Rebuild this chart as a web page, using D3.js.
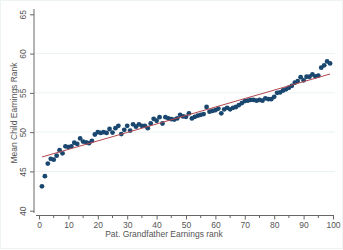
<!DOCTYPE html>
<html>
<head>
<meta charset="utf-8">
<script src="https://cdn.jsdelivr.net/npm/d3@7"></script>
<style>
  body { margin: 0; background: #fff; }
  svg { display: block; font-family: "Liberation Sans", Arial, sans-serif; }
</style>
</head>
<body>
<script>
var w = 343;
var h = 250;

// grandfather earnings rank (1..99)
var ranks = d3.range(1, 100);
// mean child earnings rank per grandfather rank
var childRank = [
  43.1, 44.4, 46.0, 46.6, 46.5, 47.0, 47.7, 47.3, 48.2, 48.1,
  48.2, 48.65, 48.5, 49.2, 48.8, 48.7, 48.6, 48.9, 49.7, 50.0,
  49.9, 50.0, 49.9, 50.4, 49.95, 50.5, 50.8, 49.75, 50.3, 50.8,
  50.2, 51.0, 50.7, 51.0, 50.8, 50.8, 50.5, 51.1, 51.7, 51.45,
  51.9, 51.1, 51.9, 51.75, 51.65, 51.6, 51.75, 52.2, 52.0, 51.95,
  52.4, 51.75, 51.95, 52.1, 52.2, 52.3, 53.2, 52.6, 52.7, 52.8,
  53.0, 52.4, 52.9, 53.1, 52.9, 53.1, 53.2, 53.45, 53.7, 53.95,
  54.0, 54.1, 54.1, 54.0, 54.1, 54.0, 54.3, 54.2, 54.2, 54.5,
  55.0, 55.05, 55.3, 55.45, 55.65, 55.9, 56.3, 56.5, 57.0, 56.6,
  57.05, 57.05, 57.35, 57.1, 57.2, 58.2, 58.5, 59.0, 58.75
];
var xTicks = [0, 10, 20, 30, 40, 50, 60, 70, 80, 90, 100];
var xMinor = [5, 15, 25, 35, 45, 55, 65, 75, 85, 95];
var yTicks = [40, 45, 50, 55, 60, 65];
var yGrid = [45, 50, 55, 60];

var x = d3.scaleLinear().domain([0, 100]).range([39, 333]);
var y = d3.scaleLinear().domain([40, 65]).range([210.7, 14.3]);

var svg = d3.select("body").append("svg").attr("width", w).attr("height", h);

// faint outer frame
svg.append("rect")
  .attr("x", 0.5).attr("y", 0.5)
  .attr("width", w - 1).attr("height", h - 2)
  .style("fill", "none")
  .style("stroke", "#eef3f4");

// gridlines
svg.selectAll(".grid")
  .data(yGrid)
  .enter()
  .append("line")
  .attr("x1", 35).attr("x2", 335)
  .attr("y1", d => y(d)).attr("y2", d => y(d))
  .style("stroke", "#eaf2f3")
  .style("stroke-width", 1);

// y axis
var yAxis = svg.append("g")
  .attr("transform", "translate(34,0)")
  .call(d3.axisLeft(y).tickValues(yTicks).tickSize(4).tickPadding(3));
yAxis.select(".domain").attr("d", "M0,9V213");
yAxis.selectAll(".tick text")
  .attr("transform", "rotate(-90)")
  .attr("x", 0)
  .attr("y", -8)
  .attr("dy", 0)
  .attr("text-anchor", "middle");

// x axis
var xAxis = svg.append("g")
  .attr("transform", "translate(0,215.5)")
  .call(d3.axisBottom(x).tickValues(xTicks).tickSize(4).tickPadding(2));
xAxis.select(".domain").attr("d", "M36,0H334");
xAxis.selectAll(".minor")
  .data(xMinor)
  .enter()
  .append("line")
  .attr("class", "minor")
  .attr("x1", d => x(d)).attr("x2", d => x(d))
  .attr("y1", 0).attr("y2", 2.5)
  .style("stroke", "#666");

svg.selectAll(".domain, .tick line").style("stroke", "#666");
svg.selectAll(".tick text")
  .style("font-size", "8.5px")
  .style("fill", "#555")
  .style("font-family", "'Liberation Sans', Arial, sans-serif");

// axis titles
svg.append("text")
  .attr("transform", "translate(16.5,113) rotate(-90)")
  .attr("text-anchor", "middle")
  .style("font-size", "8.5px")
  .style("fill", "#555")
  .text("Mean Child Earnings Rank");

svg.append("text")
  .attr("x", 164).attr("y", 237)
  .attr("text-anchor", "middle")
  .style("font-size", "8.5px")
  .style("fill", "#555")
  .text("Pat. Grandfather Earnings rank");

// linear fit
var n = ranks.length;
var mx = d3.mean(ranks), my = d3.mean(childRank);
var sxy = d3.sum(ranks, (r, i) => (r - mx) * (childRank[i] - my));
var sxx = d3.sum(ranks, r => (r - mx) * (r - mx));
var slope = sxy / sxx;
var intercept = my - slope * mx;

// points
svg.selectAll(".pt")
  .data(ranks)
  .enter()
  .append("circle")
  .attr("class", "pt")
  .attr("cx", d => x(d))
  .attr("cy", (d, i) => y(childRank[i]))
  .attr("r", 2.4)
  .style("fill", "#1a476f");

svg.append("line")
  .attr("x1", x(ranks[0])).attr("y1", y(intercept + slope * ranks[0]))
  .attr("x2", x(ranks[n - 1])).attr("y2", y(intercept + slope * ranks[n - 1]))
  .style("stroke", "#b2484f")
  .style("stroke-width", 1);
</script>
</body>
</html>
